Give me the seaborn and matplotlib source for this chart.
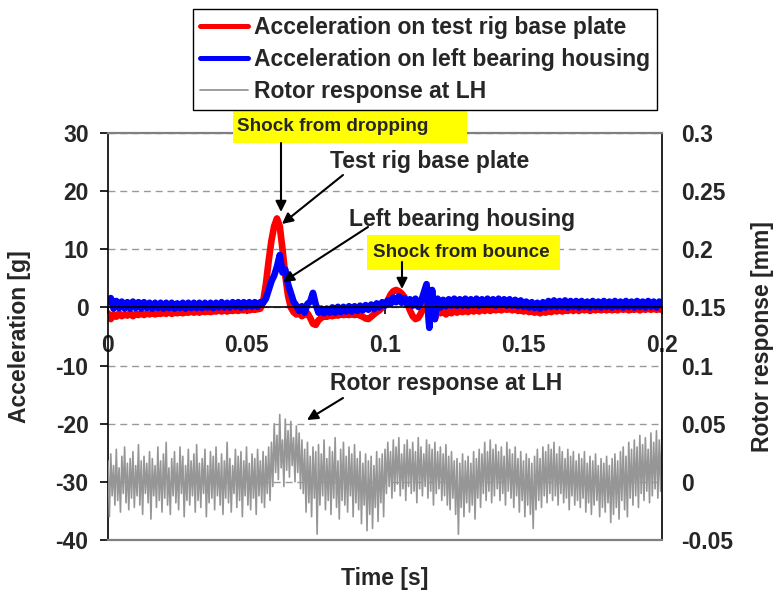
import numpy as np
import pandas as pd
import matplotlib
matplotlib.use("Agg")
import matplotlib.pyplot as plt
from matplotlib.patches import Rectangle
import seaborn as sns

# ---------------- data ----------------
acc_step = 0.001
rotor_step = 0.0005

acc_base_plate = [
    -1.0, -2.0, -1.2, -1.6, -1.0, -1.5, -1.2, -1.4, -1.0, -1.5,
    -1.1, -1.3, -1.0, -1.3, -1.0, -1.2, -0.9, -1.2, -1.0, -1.1,
    -0.9, -1.1, -0.8, -1.1, -0.9, -1.0, -0.8, -1.0, -0.8, -0.9,
    -0.7, -0.9, -0.7, -0.9, -0.6, -0.8, -0.6, -0.8, -0.6, -0.7,
    -0.5, -0.7, -0.5, -0.7, -0.5, -0.6, -0.4, -0.6, -0.4, -0.5,
    -0.4, -0.5, -0.3, -0.4, -0.3, -0.2, 1.0, 4.0, 8.0, 11.5,
    14.0, 15.3, 14.0, 10.0, 5.5, 2.0, 0.0, -0.8, -1.2, -1.0,
    -1.5, -1.2, -1.0, -1.8, -2.8, -3.0, -2.2, -1.8, -1.5, -1.6,
    -1.4, -1.5, -1.3, -1.4, -1.2, -1.3, -1.2, -1.3, -1.1, -1.3,
    -1.2, -1.4, -1.6, -1.9, -2.0, -1.6, -1.2, -0.8, -0.5, 0.0,
    0.5, 1.2, 2.2, 2.8, 3.0, 2.8, 2.4, 1.8, 0.8, -0.5,
    -1.5, -2.0, -1.8, -1.0, 0.5, 2.0, -3.0, 1.0, -2.0, 0.0,
    -1.0, -0.5, -1.2, -0.6, -1.0, -0.6, -0.9, -0.5, -0.8, -0.5,
    -0.8, -0.4, -0.7, -0.4, -0.7, -0.3, -0.6, -0.3, -0.6, -0.3,
    -0.5, -0.2, -0.5, -0.2, -0.4, -0.2, -0.5, -0.3, -0.6, -0.4,
    -0.7, -0.5, -0.8, -0.6, -0.9, -0.7, -1.0, -0.7, -0.9, -0.6,
    -0.8, -0.5, -0.7, -0.4, -0.7, -0.4, -0.6, -0.3, -0.6, -0.3,
    -0.6, -0.3, -0.5, -0.3, -0.6, -0.3, -0.5, -0.2, -0.5, -0.3,
    -0.5, -0.2, -0.5, -0.3, -0.5, -0.2, -0.4, -0.2, -0.5, -0.3,
    -0.4, -0.2, -0.5, -0.2, -0.4, -0.2, -0.4, -0.2, -0.4, -0.3,
    -0.4,
]

acc_bearing_housing = [
    0.9, 1.6, -0.2, 1.1, -0.1, 1.0, -0.2, 0.9, -0.2, 1.0,
    -0.1, 0.9, -0.2, 0.9, -0.1, 0.8, -0.2, 0.8, -0.1, 0.8,
    -0.2, 0.8, -0.1, 0.8, -0.2, 0.7, -0.1, 0.8, -0.2, 0.8,
    -0.1, 0.8, -0.1, 0.8, -0.1, 0.8, 0.0, 0.8, -0.1, 0.8,
    0.0, 0.9, 0.0, 0.8, 0.0, 0.9, 0.1, 0.9, 0.0, 0.9,
    0.1, 0.9, 0.1, 0.9, 0.1, 0.9, 0.8, 1.5, 3.0, 4.5,
    5.5, 7.0, 9.0, 6.0, 6.5, 4.0, 2.5, 1.0, 0.3, -0.6,
    0.2, -0.9, 0.6, 1.0, 2.5, 0.5, -0.9, -0.2, -1.0, -0.2,
    -0.9, 0.0, -0.9, 0.1, -0.8, 0.1, -0.7, 0.2, -0.7, 0.2,
    -0.6, 0.3, -0.5, 0.4, -0.4, 0.5, -0.3, 0.7, 0.0, 0.9,
    0.3, 1.2, 0.6, 1.7, 0.9, 1.9, 0.8, 1.6, 0.5, 1.4,
    0.3, 1.5, 0.1, 1.0, 2.5, 4.0, -3.5, 3.0, -2.0, 1.5,
    0.0, 1.3, 0.2, 1.4, 0.3, 1.5, 0.3, 1.4, 0.3, 1.5,
    0.3, 1.4, 0.4, 1.5, 0.3, 1.4, 0.4, 1.5, 0.4, 1.4,
    0.3, 1.5, 0.4, 1.4, 0.3, 1.4, 0.3, 1.3, 0.2, 1.2,
    0.1, 1.0, 0.0, 0.9, -0.1, 0.8, -0.2, 0.9, 0.0, 1.1,
    0.1, 1.2, 0.1, 1.1, 0.1, 1.2, 0.0, 1.1, 0.1, 1.1,
    0.0, 1.1, 0.1, 1.0, 0.0, 1.1, 0.1, 1.0, 0.0, 1.1,
    0.1, 1.0, 0.0, 1.1, 0.1, 1.0, 0.0, 1.1, 0.1, 1.0,
    0.0, 1.1, 0.1, 1.0, 0.0, 1.1, 0.1, 1.0, 0.0, 1.0,
    0.4,
]

rotor_response_lh = [
    0.018, -0.030, 0.024, -0.012, 0.014, -0.020, 0.028, -0.016, 0.012, -0.026,
    0.022, -0.010, 0.030, -0.018, 0.016, -0.024, 0.020, -0.014, 0.026, -0.022,
    0.014, -0.012, 0.032, -0.020, 0.018, -0.028, 0.022, -0.010, 0.016, -0.018,
    0.026, -0.032, 0.020, -0.012, 0.014, -0.022, 0.030, -0.016, 0.018, -0.026,
    0.024, -0.014, 0.034, -0.020, 0.012, -0.028, 0.020, -0.012, 0.026, -0.018,
    0.016, -0.024, 0.030, -0.010, 0.022, -0.030, 0.014, -0.016, 0.028, -0.020,
    0.018, -0.012, 0.024, -0.026, 0.032, -0.016, 0.016, -0.022, 0.020, -0.010,
    0.028, -0.030, 0.014, -0.018, 0.026, -0.014, 0.022, -0.024, 0.030, -0.012,
    0.016, -0.020, 0.024, -0.028, 0.018, -0.014, 0.034, -0.018, 0.020, -0.026,
    0.014, -0.010, 0.028, -0.022, 0.022, -0.016, 0.026, -0.030, 0.018, -0.012,
    0.030, -0.020, 0.016, -0.024, 0.024, -0.014, 0.020, -0.028, 0.028, -0.012,
    0.018, -0.018, 0.026, -0.022, 0.022, -0.010, 0.030, -0.016, 0.034, -0.004,
    0.050, 0.008, 0.040, 0.002, 0.058, 0.012, 0.036, -0.004, 0.054, 0.010,
    0.044, 0.004, 0.052, 0.014, 0.038, 0.000, 0.048, 0.008, 0.042, -0.006,
    0.036, -0.010, 0.028, -0.026, 0.034, -0.018, 0.022, -0.030, 0.030, -0.014,
    0.026, -0.045, 0.032, -0.020, 0.024, -0.012, 0.036, -0.024, 0.020, -0.016,
    0.030, -0.028, 0.026, -0.014, 0.038, -0.022, 0.018, -0.032, 0.028, -0.016,
    0.034, -0.020, 0.022, -0.026, 0.030, -0.012, 0.024, -0.030, 0.032, -0.018,
    0.020, -0.024, 0.026, -0.036, 0.016, -0.020, 0.024, -0.042, 0.018, -0.028,
    0.022, -0.040, 0.014, -0.022, 0.026, -0.034, 0.020, -0.018, 0.024, -0.030,
    0.028, -0.010, 0.034, -0.004, 0.026, -0.014, 0.036, -0.008, 0.030, -0.002,
    0.038, -0.012, 0.024, -0.006, 0.032, -0.016, 0.036, -0.004, 0.028, -0.010,
    0.034, -0.008, 0.026, -0.018, 0.038, -0.006, 0.030, -0.012, 0.024, -0.004,
    0.036, -0.014, 0.032, -0.008, 0.028, -0.020, 0.034, -0.010, 0.026, -0.006,
    0.030, -0.016, 0.024, -0.012, 0.032, -0.020, 0.022, -0.024, 0.026, -0.014,
    0.018, -0.028, 0.020, -0.045, 0.016, -0.022, 0.024, -0.030, 0.018, -0.018,
    0.022, -0.026, 0.016, -0.020, 0.026, -0.032, 0.020, -0.014, 0.028, -0.022,
    0.024, -0.010, 0.034, -0.016, 0.026, -0.008, 0.036, -0.018, 0.028, -0.012,
    0.032, -0.006, 0.026, -0.016, 0.030, -0.010, 0.022, -0.020, 0.034, -0.008,
    0.028, -0.014, 0.024, -0.022, 0.030, -0.012, 0.020, -0.026, 0.026, -0.016,
    0.018, -0.030, 0.024, -0.020, 0.020, -0.028, 0.016, -0.040, 0.022, -0.024,
    0.028, -0.016, 0.020, -0.022, 0.030, -0.012, 0.026, -0.018, 0.032, -0.010,
    0.028, -0.016, 0.034, -0.012, 0.024, -0.020, 0.030, -0.010, 0.026, -0.018,
    0.020, -0.014, 0.028, -0.024, 0.022, -0.012, 0.026, -0.020, 0.018, -0.016,
    0.024, -0.022, 0.020, -0.014, 0.026, -0.026, 0.016, -0.018, 0.022, -0.028,
    0.018, -0.020, 0.024, -0.016, 0.014, -0.030, 0.020, -0.022, 0.016, -0.026,
    0.022, -0.018, 0.014, -0.035, 0.020, -0.028, 0.024, -0.022, 0.018, -0.032,
    0.026, -0.016, 0.030, -0.024, 0.022, -0.030, 0.034, -0.014, 0.028, -0.020,
    0.036, -0.012, 0.030, -0.022, 0.040, -0.010, 0.032, -0.016, 0.038, -0.008,
    0.028, -0.018, 0.042, -0.012, 0.034, -0.006, 0.044, -0.014, 0.036, -0.008,
    0.046,
]

series_labels = [
    "Acceleration on test rig base plate",
    "Acceleration on left bearing housing",
    "Rotor response at LH",
]

x_ticks = [0, 0.05, 0.1, 0.15, 0.2]
x_tick_labels = ["0", "0.05", "0.1", "0.15", "0.2"]
left_ticks = [-40, -30, -20, -10, 0, 10, 20, 30]
left_tick_labels = ["-40", "-30", "-20", "-10", "0", "10", "20", "30"]
right_ticks = [-0.05, 0, 0.05, 0.1, 0.15, 0.2, 0.25, 0.3]
right_tick_labels = ["-0.05", "0", "0.05", "0.1", "0.15", "0.2", "0.25", "0.3"]

# ---------------- build tables ----------------
acc_df = pd.DataFrame({
    "time": np.arange(len(acc_base_plate)) * acc_step,
    "base": acc_base_plate,
    "bearing": acc_bearing_housing,
})
rotor_df = pd.DataFrame({
    "time": np.arange(len(rotor_response_lh)) * rotor_step,
    "rotor": rotor_response_lh,
})

# ---------------- styling ----------------
sns.set_theme(style="white")
plt.rcParams["font.family"] = ["Liberation Sans", "DejaVu Sans"]
plt.rcParams["font.weight"] = "bold"

fs = 16.5
W, H = 775, 594
fig = plt.figure(figsize=(W / 100, H / 100), dpi=100)
L, R, T, B = 108, 662, 133, 540
ax = fig.add_axes([L / W, 1 - B / H, (R - L) / W, (B - T) / H])
ax2 = ax.twinx()

RED = "#FF0000"
BLUE = "#0000FF"
GREY = "#969696"
LW = 4.8

sns.lineplot(data=acc_df, x="time", y="base", ax=ax, color=RED, linewidth=LW,
             estimator=None, errorbar=None, label=series_labels[0], legend=False)
sns.lineplot(data=acc_df, x="time", y="bearing", ax=ax, color=BLUE, linewidth=LW,
             estimator=None, errorbar=None, label=series_labels[1], legend=False)
sns.lineplot(data=rotor_df, x="time", y="rotor", ax=ax2, color=GREY, linewidth=1.2,
             estimator=None, errorbar=None, label=series_labels[2], legend=False)

ax.set_xlim(0, 0.2)
ax.set_ylim(-40, 30)
ax2.set_ylim(-0.05, 0.3)

ax.set_xticks(x_ticks, x_tick_labels)
ax.set_yticks(left_ticks, left_tick_labels)
ax2.set_yticks(right_ticks, right_tick_labels)

# spines
ax.spines["bottom"].set_position(("data", 0))
ax.spines["bottom"].set_color("black")
ax.spines["bottom"].set_linewidth(1.2)
ax.spines["left"].set_color("black")
ax.spines["left"].set_linewidth(1.2)
ax.spines["top"].set_visible(False)
ax.spines["right"].set_visible(False)
ax2.spines["left"].set_visible(False)
ax2.spines["right"].set_color("black")
ax2.spines["right"].set_linewidth(1.2)
ax2.spines["top"].set_color("#808080")
ax2.spines["top"].set_linewidth(1.6)
ax2.spines["bottom"].set_color("#808080")
ax2.spines["bottom"].set_linewidth(1.6)

ax.tick_params(axis="x", direction="out", length=5, width=1.2, color="black",
               pad=14, bottom=True, labelsize=fs)
ax.tick_params(axis="y", direction="out", length=6, width=1.2, color="black",
               pad=8, left=True, labelsize=fs)
ax2.tick_params(axis="y", length=0, pad=14, right=True, labelsize=fs)
ax2.tick_params(axis="x", bottom=False, labelbottom=False)
for lab in ax.get_xticklabels() + ax.get_yticklabels() + ax2.get_yticklabels():
    lab.set_fontweight("bold")

ax.grid(True, axis="y", color="#999999", linestyle=(0, (5, 3.5)), linewidth=1.0)
ax.grid(False, axis="x")
ax.set_axisbelow(True)

ax.set_xlabel("Time [s]", fontsize=fs, fontweight="bold")
ax.xaxis.set_label_coords(0.5, -(578 - B) / (B - T))
ax.xaxis.label.set_verticalalignment("center")
ax.set_ylabel("Acceleration [g]", fontsize=fs, fontweight="bold")
ax.yaxis.set_label_coords((20 - L) / (R - L), 0.5)
ax.yaxis.label.set_verticalalignment("center")
ax2.set_ylabel("Rotor response [mm]", fontsize=fs, fontweight="bold")
ax2.yaxis.set_label_coords((762 - L) / (R - L), 0.5)
ax2.yaxis.label.set_verticalalignment("center")

# ---------------- annotations ----------------
def px2data(px, py):
    return (px - L) / (R - L) * 0.2, 30 - (py - T) / (B - T) * 70

arrow_kw = dict(arrowstyle="-|>", color="black", lw=1.5, mutation_scale=16,
                shrinkA=0, shrinkB=0)

def arrow(p0, p1):
    a = ax2.annotate("", xy=px2data(*p1), xytext=px2data(*p0),
                     xycoords=ax.transData, textcoords=ax.transData,
                     arrowprops=arrow_kw, annotation_clip=False)
    a.set_zorder(12)

def yellow_box(x0, y0, x1, y1):
    (dx0, dy1), (dx1, dy0) = px2data(x0, y0), px2data(x1, y1)
    ax2.add_patch(Rectangle((dx0, dy0), dx1 - dx0, dy1 - dy0,
                            transform=ax.transData, facecolor="#FFFF00",
                            edgecolor="none", clip_on=False, zorder=10))

def label(px, py_base, s, size):
    x, y = px2data(px, py_base)
    ax2.text(x, y, s, transform=ax.transData, fontsize=size,
             fontweight="bold", ha="left", va="baseline", zorder=11,
             clip_on=False)

yellow_box(233, 110, 467, 143)
label(237, 131, "Shock from dropping", 13.6)
arrow((281, 143), (281, 212))

label(330, 168, "Test rig base plate", fs)
arrow((343, 175), (282, 224))

label(349, 226, "Left bearing housing", fs)
arrow((368, 227), (283, 282))

yellow_box(367, 235, 560, 270)
label(373, 257, "Shock from bounce", 13.6)
arrow((402, 262), (402, 289))

label(330, 390, "Rotor response at LH", fs)
arrow((343, 398), (307, 420))

# ---------------- legend ----------------
h1, l1 = ax.get_legend_handles_labels()
h2, l2 = ax2.get_legend_handles_labels()
leg = fig.legend(h1 + h2, l1 + l2, loc="upper left",
                 bbox_to_anchor=(193 / W, 1 - 9 / H), borderaxespad=0,
                 frameon=True, fancybox=False, edgecolor="black",
                 framealpha=1, borderpad=0.3, handlelength=2.1,
                 handletextpad=0.25, labelspacing=0.4,
                 prop={"size": fs, "weight": "bold"})
leg.get_frame().set_linewidth(1.0)
for line in leg.get_lines()[:2]:
    line.set_linewidth(3.6)
leg.get_lines()[2].set_linewidth(1.3)

fig.savefig("out.png", dpi=100)
